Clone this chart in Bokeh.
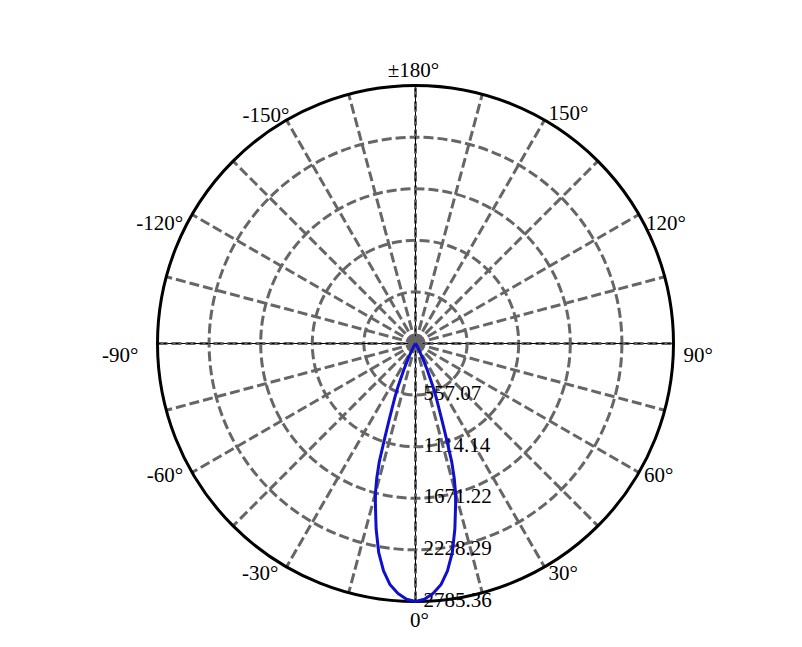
import numpy as np
from bokeh.plotting import figure
from bokeh.models import Range1d
from bokeh.core.properties import value
from bokeh.embed import file_html
from bokeh.resources import INLINE

# ---- data ----
angle_deg = [0, 2, 4, 6, 8, 10, 12, 14, 15, 16, 17, 18, 19, 20, 21, 22, 24, 26, 28, 30,
             35, 40, 50, 60, 90, 120, 150, 180]
intensity = [2785.36, 2762, 2705, 2620, 2480, 2290, 2045, 1790, 1670, 1520, 1340, 1080,
             880, 730, 620, 510, 310, 170, 85, 40, 10, 3, 0, 0, 0, 0, 0, 0]
ring_values = [557.07, 1114.14, 1671.22, 2228.29, 2785.36]
ring_labels = ["557.07", "1114.14", "1671.22", "2228.29", "2785.36"]
tick_angles = [0, 30, 60, 90, 120, 150, 180, -150, -120, -90, -60, -30]
tick_labels = ["0°", "30°", "60°", "90°", "120°", "150°", "±180°",
               "-150°", "-120°", "-90°", "-60°", "-30°"]
spoke_step = 15

# ---- layout / style ----
W, H = 786, 631
CX, CY = 415, 343
R_PX = 258
GRID = "#666666"
FONT = value("Liberation Serif")
FS = "21px"
label_align = ["center", "left", "left", "left", "left", "left", "center",
               "right", "right", "right", "right", "right"]
label_dx = [4, 4, 5, 10, 7, 4, -2, 3, -9, -19, -9, -8]
label_dy = [18, 6, 2, 11, 8, -7, -16, -5, 8, 11, 2, 6]

rmax = ring_values[-1]
s = R_PX / rmax

p = figure(width=W, height=H,
           x_range=Range1d(-CX / s, (W - CX) / s),
           y_range=Range1d(-(H - CY) / s, CY / s),
           x_axis_type=None, y_axis_type=None,
           output_backend="svg", toolbar_location=None, min_border=0)
p.grid.visible = False
p.outline_line_color = None
p.background_fill_color = "white"
p.border_fill_color = "white"


def pol(r, th_deg):
    t = np.radians(th_deg)
    return r * np.sin(t), -r * np.cos(t)


# spokes
xs, ys = [], []
for a in range(0, 360, spoke_step):
    if a % 90 == 0:
        continue
    x1, y1 = pol(rmax, a)
    xs.append([0, float(x1)])
    ys.append([0, float(y1)])
p.multi_line(xs, ys, line_color=GRID, line_width=3, line_dash="10 4")

# rings
for r in ring_values[:-1]:
    p.circle(x=0, y=0, radius=r, fill_color=None, line_color=GRID,
             line_width=3, line_dash="10 4")

# main axes
ax_x = [[-rmax, rmax], [0, 0]]
ax_y = [[0, 0], [-rmax, rmax]]
p.multi_line(ax_x, ax_y, line_color="black", line_width=1)
p.multi_line(ax_x, ax_y, line_color=GRID, line_width=3, line_dash="10 4")
p.multi_line(ax_x, ax_y, line_color="black", line_width=1, line_dash="3 3")

# outer circle
p.circle(x=0, y=0, radius=rmax, fill_color=None, line_color="black", line_width=3)

# center dot
p.scatter(x=[0], y=[0], size=14, fill_color=GRID, line_color=GRID)

# ring labels
p.text(x=[0] * len(ring_values), y=[-r + 2 / s for r in ring_values], text=ring_labels,
       x_offset=8, text_font=FONT, text_font_size=FS, text_color="black",
       text_baseline="middle", text_align="left")

# angle labels
lx, ly = [], []
for a, dx, dy in zip(tick_angles, label_dx, label_dy):
    x1, y1 = pol(rmax, a)
    lx.append(float(x1) + dx / s)
    ly.append(float(y1) - dy / s)
p.text(x=lx, y=ly, text=tick_labels, text_font=FONT, text_font_size=FS,
       text_color="black", text_baseline="middle", text_align=label_align)

# curve (mirror to negative angles)
full_ang = [-a for a in reversed(angle_deg[1:])] + angle_deg
full_int = list(reversed(intensity[1:])) + intensity
cx, cy = pol(np.array(full_int), np.array(full_ang))
p.line(cx, cy, line_color="#1010cc", line_width=3)

open("out.html", "w").write(file_html(p, INLINE))
